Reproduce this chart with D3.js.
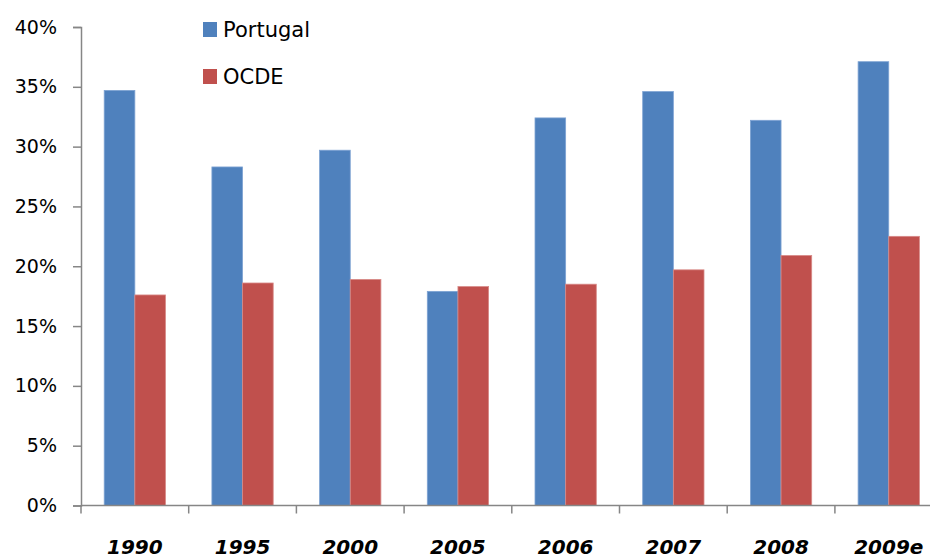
<!DOCTYPE html>
<html>
<head>
<meta charset="utf-8">
<script src="https://cdn.jsdelivr.net/npm/d3@7"></script>
<style>
  html, body { margin: 0; padding: 0; background: #fff; }
  svg { display: block; }
</style>
</head>
<body>
<svg id="chart" width="930" height="558"></svg>
<script>
const categories = ["1990", "1995", "2000", "2005", "2006", "2007", "2008", "2009e"];
const seriesNames = ["Portugal", "OCDE"];
const portugal = [34.7, 28.3, 29.7, 17.9, 32.4, 34.6, 32.2, 37.1];
const ocde = [17.6, 18.6, 18.9, 18.3, 18.5, 19.7, 20.9, 22.5];
const yTicks = [0, 5, 10, 15, 20, 25, 30, 35, 40];
const colors = ["#4F81BD", "#C0504D"];

(function () {
const svg = d3.select("#chart");
const mLeft = 81, mBottom = 505.5, mTop = 27, step = 107.7;
const axisColor = "#868686";
const font = "'DejaVu Sans', sans-serif";

const x = d3.scaleBand().domain(categories).range([mLeft, mLeft + step * categories.length]).padding(0);
const x1 = d3.scaleBand().domain(seriesNames).range([23.2, 84.5]).padding(0);
const y = d3.scaleLinear().domain([0, 40]).range([mBottom, mTop]);

const data = categories.map((c, i) => ({ cat: c, values: [portugal[i], ocde[i]] }));

// bars
const groups = svg.append("g").selectAll("g").data(data).join("g")
  .attr("transform", d => `translate(${x(d.cat)},0)`);
groups.selectAll("rect").data(d => d.values.map((v, j) => ({ name: seriesNames[j], v, j })))
  .join("rect")
  .attr("x", d => x1(d.name))
  .attr("width", x1.bandwidth())
  .attr("y", d => y(d.v))
  .attr("height", d => y(0) - y(d.v))
  .attr("fill", d => colors[d.j])
  .attr("stroke", d => d.j === 0 ? "#7ea3d3" : "#d88a88")
  .attr("stroke-width", 0.8);

// y axis
const yAxis = svg.append("g").attr("transform", `translate(${mLeft},0)`)
  .call(d3.axisLeft(y).tickValues(yTicks).tickSize(8).tickPadding(16).tickFormat(d => d + "%"));
yAxis.select(".domain").attr("stroke", axisColor).attr("stroke-width", 1.5);
yAxis.selectAll(".tick line").attr("stroke", axisColor).attr("stroke-width", 1.5);
yAxis.selectAll(".tick text").attr("fill", "#000").attr("font-family", font).attr("font-size", 19);

// x axis baseline
svg.append("line").attr("x1", mLeft).attr("x2", mLeft + step * categories.length)
  .attr("y1", y(0)).attr("y2", y(0)).attr("stroke", axisColor).attr("stroke-width", 1.5);
// boundary ticks
const bounds = categories.map(c => x(c)).concat([x.range()[1]]);
svg.append("g").selectAll("line").data(bounds).join("line")
  .attr("x1", d => d).attr("x2", d => d)
  .attr("y1", y(0)).attr("y2", y(0) + 8)
  .attr("stroke", axisColor).attr("stroke-width", 1.5);

// x labels
const xAxis = svg.append("g").attr("transform", `translate(0,${y(0)})`)
  .call(d3.axisBottom(x).tickSize(0).tickPadding(34));
xAxis.select(".domain").remove();
xAxis.selectAll(".tick text").attr("fill", "#000").attr("font-family", font)
  .attr("font-size", 20).attr("font-weight", "bold").attr("font-style", "italic");

// legend
const legend = svg.append("g").selectAll("g").data(seriesNames).join("g")
  .attr("transform", (d, i) => `translate(203,${22 + i * 47})`);
legend.append("rect").attr("width", 14).attr("height", 15).attr("fill", (d, i) => colors[i]);
legend.append("text").attr("x", 20).attr("y", 7.5).attr("dy", "0.36em")
  .attr("font-family", font).attr("font-size", 21).attr("fill", "#000").text(d => d);
})();
</script>
</body>
</html>
